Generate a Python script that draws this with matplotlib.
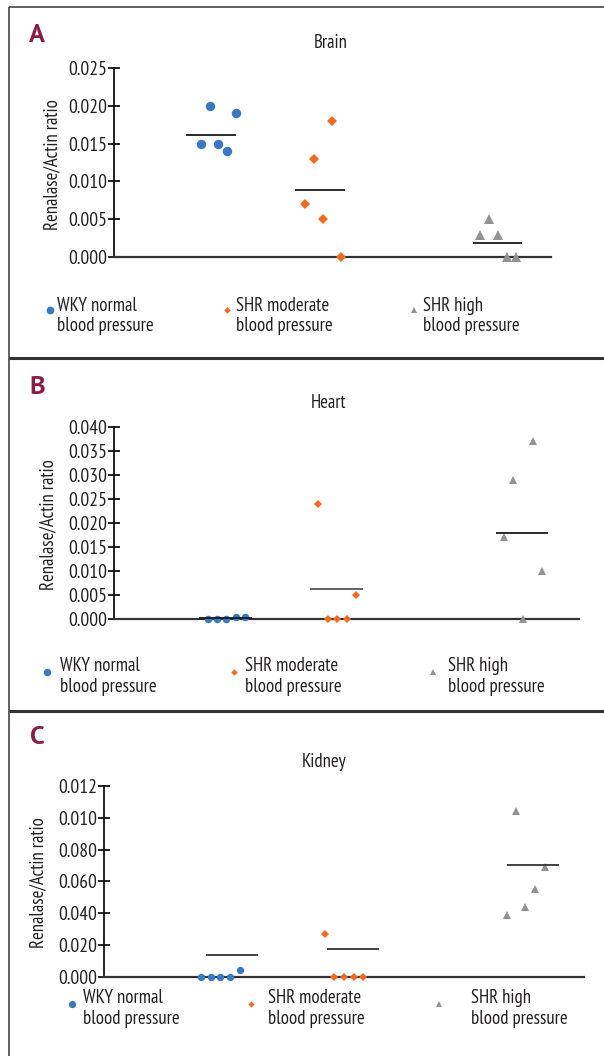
import matplotlib
matplotlib.use("Agg")
import matplotlib.pyplot as plt

# ---------------- data ----------------
group_labels = ["WKY normal\nblood pressure", "SHR moderate\nblood pressure", "SHR high\nblood pressure"]
panel_letters = ["A", "B", "C"]
panel_titles = ["Brain", "Heart", "Kidney"]
ylabel = "Renalase/Actin ratio"

brain_wky = [0.020, 0.019, 0.015, 0.015, 0.014]
brain_shr_mod = [0.018, 0.013, 0.007, 0.005, 0.000]
brain_shr_high = [0.005, 0.003, 0.003, 0.000, 0.000]
brain_means = [0.0161, 0.0089, 0.0019]
brain_ticks = [0.000, 0.005, 0.010, 0.015, 0.020, 0.025]
brain_tick_labels = ["0.000", "0.005", "0.010", "0.015", "0.020", "0.025"]

heart_wky = [0.0000, 0.0000, 0.0000, 0.0004, 0.0004]
heart_shr_mod = [0.024, 0.005, 0.000, 0.000, 0.000]
heart_shr_high = [0.037, 0.029, 0.017, 0.010, 0.000]
heart_means = [0.0002, 0.0062, 0.0180]
heart_ticks = [0.000, 0.005, 0.010, 0.015, 0.020, 0.025, 0.030, 0.035, 0.040]
heart_tick_labels = ["0.000", "0.005", "0.010", "0.015", "0.020", "0.025", "0.030", "0.035", "0.040"]

kidney_wky = [0.000, 0.000, 0.000, 0.000, 0.004]
kidney_shr_mod = [0.027, 0.000, 0.000, 0.000, 0.000]
kidney_shr_high = [0.104, 0.069, 0.055, 0.044, 0.039]
kidney_means = [0.0137, 0.0174, 0.0703]
kidney_ticks = [0.000, 0.020, 0.040, 0.060, 0.080, 0.100, 0.120]
kidney_tick_labels = ["0.000", "0.020", "0.040", "0.060", "0.080", "0.010", "0.012"]

# ---------------- layout (pixels) ----------------
W, H = 604, 1056
# horizontal jitter positions of points (pixel units from the y axis)
brain_x = [[96, 122, 87, 104, 113], [218, 200, 191, 209, 227], [375, 366, 384, 393, 402]]
brain_spans = [(72, 122), (181, 231), (359, 408)]
heart_x = [[94, 103, 112, 122, 131], [204, 242, 214, 223, 233], [419, 399, 390, 428, 409]]
heart_spans = [(85, 138), (196, 249), (382, 434)]
kidney_x = [[97, 107, 116, 126, 136], [221, 230, 240, 250, 259], [412, 441, 431, 421, 403]]
kidney_spans = [(102, 154), (223, 275), (403, 455)]

colors = ["#3B78C2", "#F26A22", "#929292"]
markers = ["o", "D", "^"]

FONT = ["PT Sans Narrow", "DejaVu Sans"]
TXT = "#231F20"
MAROON = "#8A1C46"

fig = plt.figure(figsize=(W / 100, H / 100), dpi=100)
fig.patch.set_facecolor("white")

ov = fig.add_axes([0, 0, 1, 1], zorder=0)
ov.set_xlim(0, W)
ov.set_ylim(H, 0)
ov.axis("off")

# frame lines
ov.plot([9, 9], [7, H], color="#444444", lw=1.2, solid_capstyle="butt")
ov.plot([9, W], [7, 7], color="#444444", lw=1.2, solid_capstyle="butt")
for yy in (358, 711):
    ov.plot([9, W], [yy, yy], color="#333333", lw=2.2, solid_capstyle="butt")


def px_axes(left, right, top, bottom):
    return fig.add_axes([left / W, 1 - bottom / H, (right - left) / W, (bottom - top) / H], zorder=2)


panels = [
    dict(series=[brain_wky, brain_shr_mod, brain_shr_high], means=brain_means, ticks=brain_ticks,
         tl=brain_tick_labels, xs=brain_x, spans=brain_spans, box=(114, 551, 67.7, 257.3),
         letter=(37, 36), title=(331, 43), ylab=(52, 165), msz=[6.8, 5.2, 6.8],
         leg_sz=[5.6, 3.3, 4.5],
         mean_colors=["#1a1a1a", "#1a1a1a", "#1a1a1a"],
         leg_marker_x=[50, 227, 414], leg_text_x=[57, 236, 423], leg_y=310, leg_text_y=316),
    dict(series=[heart_wky, heart_shr_mod, heart_shr_high], means=heart_means, ticks=heart_ticks,
         tl=heart_tick_labels, xs=heart_x, spans=heart_spans, box=(114, 579, 426.7, 619.3),
         letter=(37, 387), title=(329, 403), ylab=(48, 525), msz=[5.4, 4.5, 6.0],
         leg_sz=[5.4, 3.3, 4.5],
         mean_colors=["#1a1a1a", "#555555", "#1a1a1a"],
         leg_marker_x=[47, 234, 433], leg_text_x=[60, 245, 448], leg_y=672, leg_text_y=676.5),
    dict(series=[kidney_wky, kidney_shr_mod, kidney_shr_high], means=kidney_means, ticks=kidney_ticks,
         tl=kidney_tick_labels, xs=kidney_x, spans=kidney_spans, box=(104, 584, 786, 976.7),
         letter=(37, 738), title=(324, 762), ylab=(38.5, 883), msz=[5.3, 4.1, 5.8],
         leg_sz=[5.2, 3.1, 4.2],
         mean_colors=["#333333", "#333333", "#333333"],
         leg_marker_x=[72, 251, 439], leg_text_x=[83, 268, 471], leg_y=1004, leg_text_y=1008.5),
]

for i, p in enumerate(panels):
    left, right, top, bottom = p["box"]
    ax = px_axes(left, right, top, bottom)
    ax.set_facecolor("none")
    ax.set_xlim(0, right - left)
    ax.set_ylim(p["ticks"][0], p["ticks"][-1])
    for s in ("top", "right"):
        ax.spines[s].set_visible(False)
    ax.spines["left"].set_color("#111111")
    ax.spines["left"].set_linewidth(1.3)
    ax.spines["bottom"].set_color("#333333")
    ax.spines["bottom"].set_linewidth(1.6)
    ax.set_xticks([])
    ax.set_yticks(p["ticks"])
    ax.set_yticklabels(p["tl"], fontfamily=FONT, fontsize=14, color=TXT)
    ax.tick_params(axis="y", direction="inout", length=8, width=1.3, color="#111111", pad=1)

    for g in range(3):
        ax.plot(p["xs"][g], p["series"][g], linestyle="none", marker=markers[g],
                markersize=p["msz"][g], color=colors[g], markeredgewidth=0, clip_on=False, zorder=3)
        x0, x1 = p["spans"][g]
        ax.plot([x0, x1], [p["means"][g], p["means"][g]], color=p["mean_colors"][g], lw=1.3,
                solid_capstyle="butt", zorder=4, clip_on=False)

    # texts
    ov.text(*p["letter"], panel_letters[i], fontsize=19, fontweight="bold", color=MAROON,
            ha="center", va="center", family=["PT Sans", "DejaVu Sans"])
    ov.text(*p["title"], panel_titles[i], fontsize=13.5, color=TXT, ha="center", va="center", family=FONT)
    ov.text(*p["ylab"], ylabel, fontsize=13.5, color=TXT, ha="center", va="center", rotation=90,
            family=FONT)

    # legend
    for g in range(3):
        ov.plot([p["leg_marker_x"][g]], [p["leg_y"]], marker=markers[g], linestyle="none",
                markersize=p["leg_sz"][g], color=colors[g], markeredgewidth=0)
        ov.text(p["leg_text_x"][g], p["leg_text_y"], group_labels[g], fontsize=13.5, color=TXT,
                ha="left", va="center", linespacing=1.15, family=FONT)

fig.savefig("out.png", dpi=100, facecolor="white")
